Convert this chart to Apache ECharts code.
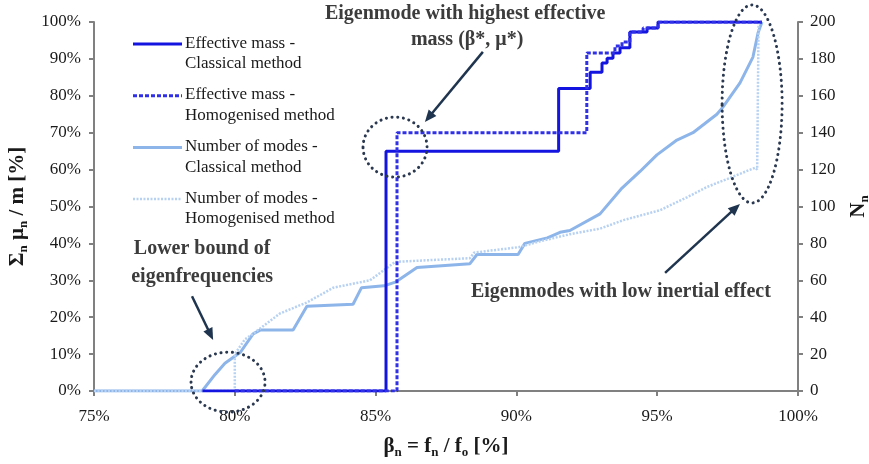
<!DOCTYPE html>
<html>
<head>
<meta charset="utf-8">
<script src="https://cdn.jsdelivr.net/npm/echarts@6/dist/echarts.min.js"></script>
<style>
  html, body { margin: 0; padding: 0; background: #ffffff; }
  #chart { width: 869px; height: 464px; }
</style>
</head>
<body>
<div id="chart"></div>
<script>
// ---- data: β = fn/fo [%] ----
// cumulative effective mass [%], left axis (step changes at each β)
const emClassicalBeta = [78.85, 85.37, 91.5, 92.62, 93.04, 93.22, 93.43, 93.68, 94.03, 94.64, 95.03, 98.72];
const emClassicalPct  = [0, 65, 82, 86.4, 88.9, 90.2, 91.6, 93, 97.3, 98.4, 100, 100];

const emHomogBeta = [80.0, 85.76, 92.5, 93.5, 93.75, 94.03, 94.5, 95.03, 98.72];
const emHomogPct  = [0, 70, 91.6, 93.5, 94.6, 97.3, 98.4, 100, 100];

// cumulative number of modes, right axis
const nClassicalBeta = [75, 78.84, 79.3, 79.65, 80.2, 80.65, 80.9, 82.07, 82.56, 84.2, 84.5, 85.3, 85.7, 86.47, 88.35, 88.6, 90.06, 90.3, 91.1, 91.55, 91.9, 92.97, 93.75, 94.39, 94.99, 95.7, 96.27, 97.12, 97.34, 97.94, 98.4, 98.58, 98.72];
const nClassicalN    = [0, 0, 9, 15, 21, 31, 33, 33, 46, 47, 56, 57, 59, 67, 69, 74, 74, 80, 83, 86, 87, 96, 110, 119, 128, 136, 140, 150, 154, 167, 181, 194, 200];

const nHomogBeta = [75, 80.0, 80.0, 80.36, 80.65, 81.6, 82.56, 83.5, 84.8, 85.7, 88.35, 88.5, 90.1, 90.8, 91.9, 92.97, 93.8, 95.1, 96.06, 96.77, 97.5, 98.47, 98.55, 98.6];
const nHomogN    = [0, 0, 20, 28, 31, 42, 48, 56, 60, 70, 72, 75, 78, 81, 85, 88, 92.6, 98, 105, 110.6, 115, 121, 120, 200];

const seriesNames = [
  'Effective mass -\nClassical method',
  'Effective mass -\nHomogenised method',
  'Number of modes -\nClassical method',
  'Number of modes -\nHomogenised method'
];

// axis ticks
const xTicks = { min: 75, max: 100, step: 5 };
const leftTicks = { min: 0, max: 100, step: 10 };
const rightTicks = { min: 0, max: 200, step: 20 };

// ---- styling ----
const SERIF = '"Liberation Serif", "Times New Roman", serif';
const AXIS_GREY = '#808080';
const INK = '#1a1a1a';
const NOTE = '#3c3c3c';
const NAVY = '#1f344e';

const lineStyles = [
  { color: '#1414e0', width: 3, type: 'solid' },
  { color: '#3030e6', width: 3, type: [4, 2] },
  { color: '#8db5ea', width: 3, type: 'solid' },
  { color: '#b6d1f2', width: 2.5, type: [2, 1.5] }
];

const pairs = (xs, ys) => xs.map((x, i) => [x, ys[i]]);

const nameRich = {
  b: { fontFamily: SERIF, fontWeight: 'bold', fontSize: 21, color: INK, verticalAlign: 'bottom' },
  s: { fontFamily: SERIF, fontWeight: 'bold', fontSize: 13, color: INK, verticalAlign: 'bottom', padding: [0, 0, -2, 0] }
};

const tickFont = { color: INK, fontFamily: SERIF, fontSize: 17 };

function valueAxis(t, extra) {
  return Object.assign({
    type: 'value',
    min: t.min, max: t.max, interval: t.step,
    axisLine: { show: true, lineStyle: { color: AXIS_GREY, width: 2 } },
    axisTick: { show: true, length: 5, lineStyle: { color: AXIS_GREY, width: 2 } },
    splitLine: { show: false }
  }, extra);
}

const chart = echarts.init(document.getElementById('chart'), null, { renderer: 'canvas' });

chart.setOption({
  animation: false,
  backgroundColor: '#ffffff',
  grid: { left: 94, right: 71, top: 22, bottom: 73, containLabel: false, outerBoundsMode: 'none' },
  xAxis: valueAxis(xTicks, {
    name: '{b|β}{s|n}{b| = f}{s|n}{b| / f}{s|o}{b| [%]}',
    nameLocation: 'middle', nameGap: 45,
    nameTextStyle: { rich: nameRich },
    axisLabel: Object.assign({ formatter: '{value}%', margin: 17 }, tickFont)
  }),
  yAxis: [
    valueAxis(leftTicks, {
      position: 'left',
      name: '{b|Σ}{s|n}{b| μ}{s|n}{b| / m [%]}',
      nameLocation: 'middle', nameGap: 66, nameRotate: 90,
      nameTextStyle: { rich: nameRich },
      axisLabel: Object.assign({ formatter: '{value}%', margin: 13 }, tickFont)
    }),
    valueAxis(rightTicks, {
      position: 'right',
      name: '{b|N}{s|n}',
      nameLocation: 'middle', nameGap: 50, nameRotate: 90,
      nameTextStyle: { rich: nameRich },
      axisLabel: Object.assign({ formatter: '{value}', margin: 12 }, tickFont)
    })
  ],
  series: [
    { name: seriesNames[2], type: 'line', yAxisIndex: 1, data: pairs(nClassicalBeta, nClassicalN),
      symbol: 'none', lineStyle: lineStyles[2], z: 2 },
    { name: seriesNames[3], type: 'line', yAxisIndex: 1, data: pairs(nHomogBeta, nHomogN),
      symbol: 'none', lineStyle: lineStyles[3], z: 2 },
    { name: seriesNames[0], type: 'line', yAxisIndex: 0, step: 'end', data: pairs(emClassicalBeta, emClassicalPct),
      symbol: 'none', lineStyle: lineStyles[0], z: 3 },
    { name: seriesNames[1], type: 'line', yAxisIndex: 0, step: 'end', data: pairs(emHomogBeta, emHomogPct),
      symbol: 'none', lineStyle: lineStyles[1], z: 4 }
  ]
});

// ---- annotations, placed in (β %, mass %) coordinates ----
const toPx = (p) => chart.convertToPixel({ xAxisIndex: 0, yAxisIndex: 0 }, p);

const notes = [
  { text: 'Eigenmode with highest effective', at: [88.18, 102.2] },
  { text: 'mass (β*, μ*)', at: [88.25, 95.1] },
  { text: 'Lower bound of', at: [78.84, 38.5] },
  { text: 'eigenfrequencies', at: [78.84, 30.9] },
  { text: 'Eigenmodes with low inertial effect', at: [93.71, 26.8] }
];

const rings = [
  { at: [85.69, 66.1], rx: 32, ry: 30 },
  { at: [79.76, 2.4], rx: 37, ry: 30 },
  { at: [98.37, 77.8], rx: 30, ry: 99 }
];

const arrows = [
  { from: [88.81, 91.9], to: [86.75, 72.9] },
  { from: [78.48, 25.7], to: [79.23, 13.8] },
  { from: [95.28, 32.0], to: [97.94, 50.7] }
];

const graphic = [];

notes.forEach(n => {
  const [x, y] = toPx(n.at);
  graphic.push({
    type: 'text', z: 20,
    style: { text: n.text, x, y, align: 'center', verticalAlign: 'middle',
             font: 'bold 20px ' + SERIF, fill: NOTE }
  });
});

rings.forEach(r => {
  const [cx, cy] = toPx(r.at);
  graphic.push({
    type: 'ellipse', z: 20,
    shape: { cx, cy, rx: r.rx, ry: r.ry },
    style: { fill: 'none', stroke: '#2a3850', lineWidth: 3, lineDash: [0.1, 5.6], lineCap: 'round' }
  });
});

arrows.forEach(a => {
  const [x1, y1] = toPx(a.from);
  const [x2, y2] = toPx(a.to);
  const dx = x2 - x1, dy = y2 - y1;
  const len = Math.hypot(dx, dy);
  const ux = dx / len, uy = dy / len;
  const head = 12, half = 5;
  const bx = x2 - ux * head, by = y2 - uy * head;
  graphic.push({
    type: 'line', z: 21,
    shape: { x1, y1, x2: bx + ux * 2, y2: by + uy * 2 },
    style: { stroke: NAVY, lineWidth: 2.5 }
  });
  graphic.push({
    type: 'polygon', z: 21,
    shape: { points: [[x2, y2], [bx - uy * half, by + ux * half], [bx + uy * half, by - ux * half]] },
    style: { fill: NAVY }
  });
});

// legend: sample line followed by a two-line label
const legendLeft = 133, legendTop = 44, legendStep = 51.7, sampleLen = 49;
[0, 1, 2, 3].forEach((k, i) => {
  const y = legendTop + i * legendStep;
  const ls = lineStyles[k];
  graphic.push({
    type: 'line', z: 22,
    shape: { x1: legendLeft, y1: y, x2: legendLeft + sampleLen, y2: y },
    style: { stroke: ls.color, lineWidth: ls.width, lineDash: Array.isArray(ls.type) ? ls.type : null }
  });
  graphic.push({
    type: 'text', z: 22,
    style: { text: seriesNames[k], x: legendLeft + sampleLen + 3, y: y - 11,
             font: '17px ' + SERIF, fill: INK, lineHeight: 20.5, align: 'left', verticalAlign: 'top' }
  });
});

chart.setOption({ graphic });
</script>
</body>
</html>
